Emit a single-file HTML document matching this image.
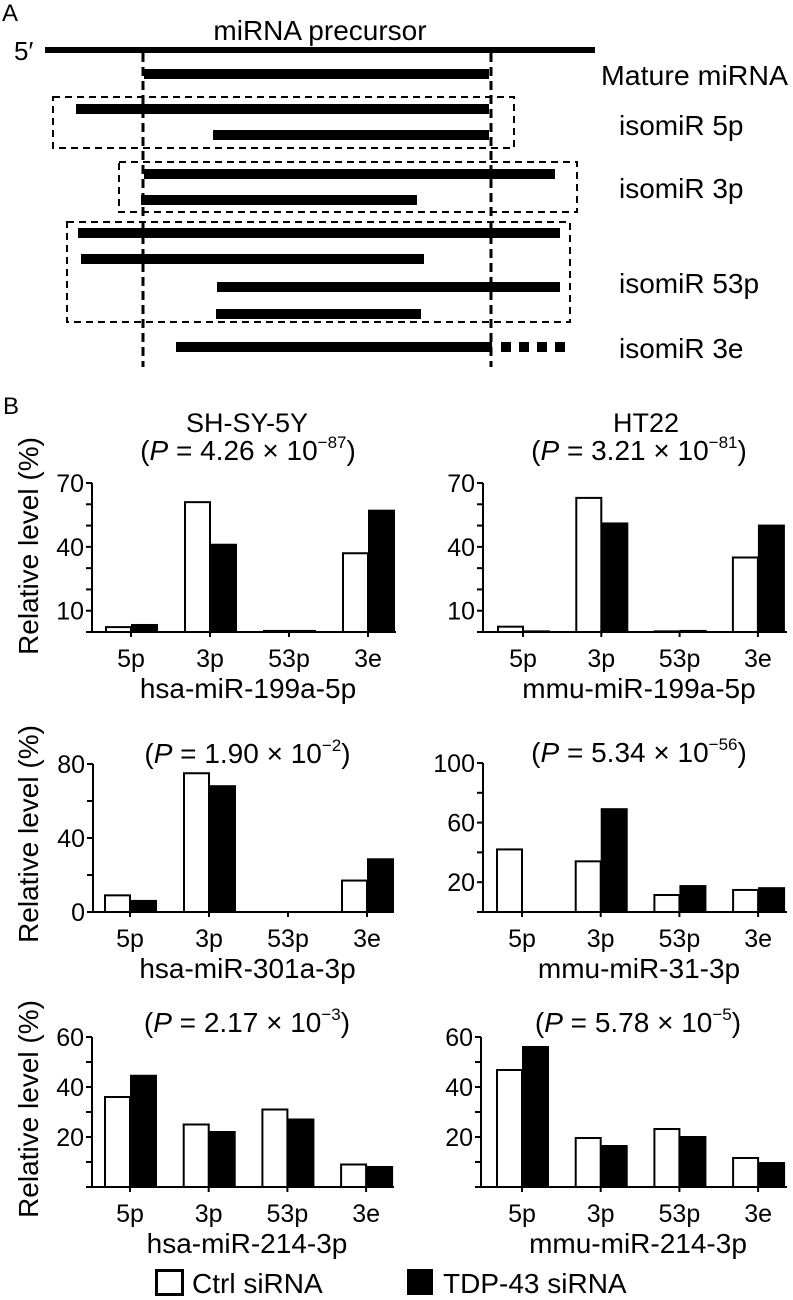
<!DOCTYPE html>
<html><head><meta charset="utf-8"><style>
html,body{margin:0;padding:0;background:#fff;}
svg{display:block;font-family:"Liberation Sans",Arial,sans-serif;}
</style></head><body>
<svg id="fig" width="793" height="1300" viewBox="0 0 793 1300" xmlns="http://www.w3.org/2000/svg">
<g id="partA">
<text x="2" y="21" font-size="24">A</text>
<text x="320" y="40" font-size="28" text-anchor="middle">miRNA precursor</text>
<text x="14" y="60" font-size="26">5′</text>
<rect x="45" y="47" width="550" height="6" fill="#000"/>
<line x1="143" y1="53" x2="143" y2="367" stroke="#000" stroke-width="3" stroke-dasharray="9,5"/>
<line x1="491" y1="53" x2="491" y2="367" stroke="#000" stroke-width="3" stroke-dasharray="9,5"/>
<rect x="144" y="69" width="345" height="10" fill="#000"/>
<text x="601" y="85" font-size="28" textLength="187" lengthAdjust="spacingAndGlyphs">Mature miRNA</text>
<rect x="53" y="97" width="461" height="51" fill="none" stroke="#000" stroke-width="2" stroke-dasharray="7,5"/>
<rect x="76" y="104" width="413" height="10" fill="#000"/>
<rect x="213" y="130" width="276" height="10" fill="#000"/>
<text x="619" y="135" font-size="28">isomiR 5p</text>
<rect x="119" y="162" width="458" height="50" fill="none" stroke="#000" stroke-width="2" stroke-dasharray="7,5"/>
<rect x="144" y="169" width="411" height="10" fill="#000"/>
<rect x="141" y="195" width="276" height="10" fill="#000"/>
<text x="619" y="198" font-size="28">isomiR 3p</text>
<rect x="67" y="222" width="503" height="100" fill="none" stroke="#000" stroke-width="2" stroke-dasharray="7,5"/>
<rect x="78" y="228" width="482" height="10" fill="#000"/>
<rect x="81" y="254" width="343" height="10" fill="#000"/>
<rect x="217" y="282" width="343" height="10" fill="#000"/>
<rect x="216" y="309" width="205" height="10" fill="#000"/>
<text x="619" y="293" font-size="28">isomiR 53p</text>
<rect x="176" y="342" width="316" height="10" fill="#000"/>
<line x1="501" y1="347" x2="566" y2="347" stroke="#000" stroke-width="10" stroke-dasharray="10,8"/>
<text x="619" y="358" font-size="28">isomiR 3e</text>
</g>
<text x="3" y="414" font-size="24">B</text>
<text x="247" y="432" font-size="27" text-anchor="middle">SH-SY-5Y</text>
<text x="646" y="432" font-size="27" text-anchor="middle">HT22</text>
<g id="charts"></g>
<g>
<rect x="156.5" y="1270.5" width="26" height="24" fill="#fff" stroke="#000" stroke-width="3"/>
<text x="192" y="1293" font-size="28">Ctrl siRNA</text>
<rect x="407" y="1269" width="26" height="26" fill="#000"/>
<text x="443" y="1293" font-size="28">TDP-43 siRNA</text>
</g>
</svg>
<script>
const categories = ["5p", "3p", "53p", "3e"];
const ctrl1 = [2.3, 61, 0.5, 37];
const tdp1 = [3.3, 41, 0.5, 57];
const ctrl2 = [2.5, 63, 0.3, 35];
const tdp2 = [0.3, 51, 0.5, 50];
const ctrl3 = [9, 75, 0, 17];
const tdp3 = [6, 68, 0, 28.5];
const ctrl4 = [42, 34, 11.4, 14.8];
const tdp4 = [0, 69, 17.4, 16];
const ctrl5 = [36, 25, 31, 9];
const tdp5 = [44.5, 22, 27, 8];
const ctrl6 = [46.8, 19.6, 23.2, 11.6];
const tdp6 = [56, 16.4, 20, 9.6];
const ticks1 = [0, 10, 20, 30, 40, 50, 60, 70];
const tickLabels1 = ["10", "40", "70"];
const ticks3 = [0, 20, 40, 60, 80];
const tickLabels3 = ["0", "40", "80"];
const ticks4 = [0, 20, 40, 60, 80, 100];
const tickLabels4 = ["20", "60", "100"];
const ticks5 = [0, 10, 20, 30, 40, 50, 60];
const tickLabels5 = ["20", "40", "60"];
const names = ["hsa-miR-199a-5p", "mmu-miR-199a-5p", "hsa-miR-301a-3p", "mmu-miR-31-3p", "hsa-miR-214-3p", "mmu-miR-214-3p"];
const pMant = ["4.26", "3.21", "1.90", "5.34", "2.17", "5.78"];
const pExp = ["−87", "−81", "−2", "−56", "−3", "−5"];

const NS = "http://www.w3.org/2000/svg";
const root = document.getElementById("charts");
function mk(tag, attrs, parent) {
  const e = document.createElementNS(NS, tag);
  for (const k in attrs) e.setAttribute(k, attrs[k]);
  parent.appendChild(e);
  return e;
}
const layouts = [
  {ax: 92, right: 396, y0: 632, yTop: 483, max: 70, cx0: 131, step: 79, title: 450, ticks: ticks1, labels: tickLabels1, ctrl: ctrl1, tdp: tdp1, ytitle: 546},
  {ax: 483, right: 787, y0: 632, yTop: 483, max: 70, cx0: 523, step: 78.3, title: 450, ticks: ticks1, labels: tickLabels1, ctrl: ctrl2, tdp: tdp2},
  {ax: 93, right: 394, y0: 912, yTop: 764, max: 80, cx0: 130, step: 79, title: 753, ticks: ticks3, labels: tickLabels3, ctrl: ctrl3, tdp: tdp3, ytitle: 834},
  {ax: 483, right: 787, y0: 912, yTop: 763, max: 100, cx0: 522, step: 78.7, title: 752, ticks: ticks4, labels: tickLabels4, ctrl: ctrl4, tdp: tdp4},
  {ax: 92, right: 394, y0: 1187, yTop: 1037, max: 60, cx0: 130, step: 78.7, title: 1022, ticks: ticks5, labels: tickLabels5, ctrl: ctrl5, tdp: tdp5, ytitle: 1109},
  {ax: 481, right: 787, y0: 1187, yTop: 1037, max: 60, cx0: 522, step: 78.7, title: 1022, ticks: ticks5, labels: tickLabels5, ctrl: ctrl6, tdp: tdp6}
];
layouts.forEach((L, i) => {
  const g = mk("g", {}, root);
  
  
  const yS = v => L.y0 - (v / L.max) * (L.y0 - L.yTop);
  const xS = c => L.cx0 + c * L.step;
  const midX = (L.ax + L.right) / 2 + 4;
  const t = mk("text", {x: midX, y: L.title + 10, "font-size": 28, "text-anchor": "middle"}, g);
  
  
  t.innerHTML = '(<tspan font-style="italic">P</tspan> = ' + pMant[i] + ' × 10<tspan font-size="17" dy="-12">' + pExp[i] + '</tspan><tspan dy="12">)</tspan>';
  categories.forEach((c, j) => {
    const cx = xS(j);
    const w = 26;
    const hc = L.y0 - yS(L.ctrl[j]);
    const rc = mk("rect", {x: cx - w + 1, y: yS(L.ctrl[j]), width: w - 1, height: Math.max(hc, 0), fill: "#fff", stroke: "#000", "stroke-width": 2}, g);
    
    
    const rt = mk("rect", {x: cx, y: yS(L.tdp[j]) - 1, width: w + 1, height: Math.max(L.y0 - yS(L.tdp[j]), 0) + 1, fill: "#000"}, g);
    
    
    const tk = mk("line", {x1: cx, y1: L.y0, x2: cx, y2: L.y0 + 5, stroke: "#000", "stroke-width": 2}, g);
    
    
    const cl = mk("text", {x: cx, y: L.y0 + 35, "font-size": 25, "text-anchor": "middle"}, g);
    
    
    cl.textContent = c;
  });
  const ya = mk("line", {x1: L.ax, y1: L.yTop, x2: L.ax, y2: L.y0 + 1, stroke: "#000", "stroke-width": 2}, g);
  
  
  const xa = mk("line", {x1: L.ax - 1, y1: L.y0, x2: L.right, y2: L.y0, stroke: "#000", "stroke-width": 2}, g);
  
  
  L.ticks.forEach(v => {
    const tl = mk("line", {x1: L.ax - 6, y1: yS(v), x2: L.ax, y2: yS(v), stroke: "#000", "stroke-width": 2}, g);
    
    
  });
  L.labels.forEach(s => {
    const tx = mk("text", {x: L.ax - 8, y: yS(parseFloat(s)) + 9, "font-size": 25, "text-anchor": "end"}, g);
    
    
    tx.textContent = s;
  });
  const nm = mk("text", {x: midX, y: L.y0 + 66, "font-size": 28, "text-anchor": "middle"}, g);
  
  
  nm.textContent = names[i];
  if (L.ytitle) {
    const yt = mk("text", {x: 0, y: 0, "font-size": 28, "text-anchor": "middle", transform: "translate(38," + L.ytitle + ") rotate(-90)"}, g);
    
    
    yt.textContent = "Relative level (%)";
  }
});
</script>
</body></html>
